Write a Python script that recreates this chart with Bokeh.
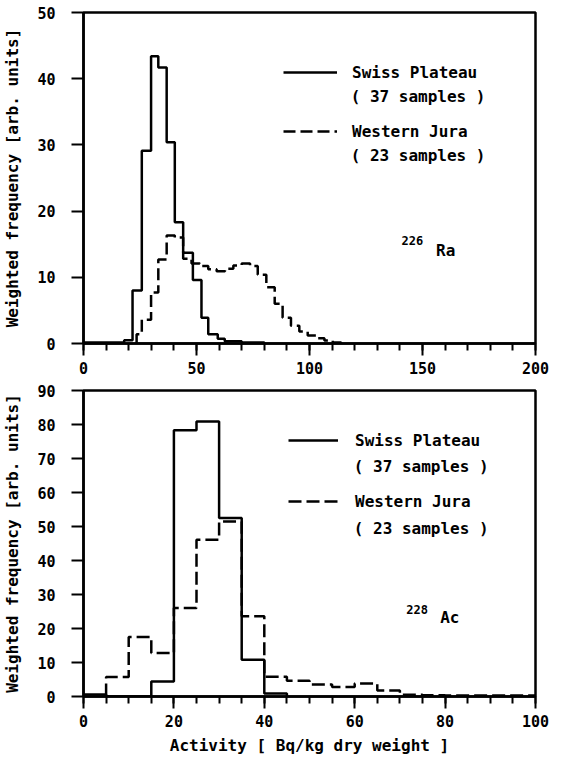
from bokeh.plotting import figure
from bokeh.layouts import column
from bokeh.models import Range1d, FixedTicker, Legend, LegendItem, Label
from bokeh.embed import file_html
from bokeh.resources import INLINE

# ---------------- data ----------------
# 226Ra panel (activity in Bq/kg, weighted frequency)
ra_sp_edges = [0, 18, 21.7, 25.8, 29.9, 33.1, 36.8, 40.4, 44.1, 48.4, 52.2, 55.2, 59.4, 62.5, 70, 80]
ra_sp_vals = [0.15, 0.5, 8.0, 29.1, 43.4, 41.7, 30.4, 18.3, 13.7, 9.6, 3.9, 1.4, 0.7, 0.35, 0.15]

ra_wj_edges = [23.5, 25.8, 29.9, 33.1, 36.8, 40.4, 44.1, 47.8, 51.5, 55.2, 58.9, 62.6, 66.3,
               70.0, 73.7, 77.1, 80.9, 84.6, 88.1, 91.8, 95.5, 99.2, 102.9, 106.6, 110.3, 114.0]
ra_wj_vals = [1.4, 3.6, 7.7, 12.7, 16.3, 16.0, 12.8, 12.1, 11.7, 11.2, 10.9, 11.3, 11.8,
              12.1, 11.7, 10.4, 8.5, 6.0, 3.9, 2.7, 1.8, 1.2, 0.8, 0.45, 0.15]

# 228Ac panel
ac_sp_edges = [0, 5, 10, 15, 20, 25, 30, 35, 40, 45]
ac_sp_vals = [0.6, 0.0, 0.0, 4.4, 78.3, 80.9, 52.5, 10.8, 0.9]

ac_wj_edges = [5, 10, 15, 20, 25, 30, 35, 40, 45, 50, 55, 60, 65, 70, 75, 80, 85, 90, 95, 100]
ac_wj_vals = [5.7, 17.5, 12.8, 26.0, 46.1, 51.5, 23.6, 5.8, 4.6, 3.5, 2.8, 3.8, 1.8,
              0.5, 0.4, 0.3, 0.3, 0.3, 0.3]

series_labels = ["Swiss Plateau", "Western Jura"]
sample_labels = ["( 37 samples )", "( 23 samples )"]

ra_xticks = [0, 50, 100, 150, 200]
ra_xminor = list(range(0, 201, 10))
ra_yticks = [0, 10, 20, 30, 40, 50]
ac_xticks = [0, 20, 40, 60, 80, 100]
ac_xminor = list(range(0, 101, 5))
ac_yticks = [0, 10, 20, 30, 40, 50, 60, 70, 80, 90]

FONT = "DejaVu Sans Mono"
LW = 2.5


def step_xy(edges, vals):
    xs = [edges[0]] + list(edges)
    ys = [0] + list(vals) + [0]
    return xs, ys


def style(p, xticks, xminor, yticks, xlabel):
    p.toolbar_location = None
    p.xgrid.visible = False
    p.ygrid.visible = False
    p.outline_line_color = "black"
    p.outline_line_width = LW
    p.outline_line_alpha = 1
    p.xaxis.ticker = FixedTicker(ticks=xticks, minor_ticks=xminor)
    p.yaxis.ticker = FixedTicker(ticks=yticks, minor_ticks=[])
    for ax in (p.xaxis[0], p.yaxis[0]):
        ax.axis_line_width = LW
        ax.major_tick_line_width = 2
        ax.minor_tick_line_width = 2
        ax.major_tick_in = 0
        ax.minor_tick_in = 0
        ax.major_tick_out = 12
        ax.major_label_text_font = FONT
        ax.major_label_text_font_style = "bold"
        ax.major_label_text_font_size = "15px"
        ax.major_label_text_color = "black"
        ax.axis_label_text_font = FONT
        ax.axis_label_text_font_style = "bold"
        ax.axis_label_text_font_size = "16px"
        ax.axis_label_text_color = "black"
    p.xaxis.minor_tick_out = 7
    p.yaxis.minor_tick_out = 0
    p.xaxis.major_label_standoff = 6
    p.yaxis.major_label_standoff = 16
    p.yaxis.axis_label = "Weighted frequency [arb. units]"
    p.yaxis.axis_label_standoff = 12
    if xlabel:
        p.xaxis.axis_label = xlabel
        p.xaxis.axis_label_standoff = 6


def add_legend(p, r1, r2, loc, gw, standoff, spacing):
    leg = Legend(items=[LegendItem(label=series_labels[0], renderers=[r1]),
                        LegendItem(label=series_labels[1], renderers=[r2])],
                 location=loc, glyph_width=gw, glyph_height=20, label_height=20,
                 label_standoff=standoff, spacing=spacing, padding=0, margin=0,
                 border_line_alpha=0, background_fill_alpha=0,
                 label_text_font=FONT, label_text_font_style="bold",
                 label_text_font_size="16px", label_text_color="black")
    p.add_layout(leg)


def add_text(p, x, y, t, size):
    p.add_layout(Label(x=x, y=y, text=t, text_font=FONT, text_font_style="bold",
                       text_font_size=size, text_baseline="middle", text_align="left",
                       text_color="black"))


# ---------------- top panel (226Ra) ----------------
p1 = figure(width=550, height=381, output_backend="svg", toolbar_location=None,
            x_range=Range1d(0, 200), y_range=Range1d(0, 50),
            min_border_left=80, min_border_right=15, min_border_top=12, min_border_bottom=38)
xs, ys = step_xy(ra_sp_edges, ra_sp_vals)
r1 = p1.step(xs, ys, mode="after", line_color="black", line_width=LW)
xs, ys = step_xy(ra_wj_edges, ra_wj_vals)
r2 = p1.step(xs, ys, mode="after", line_color="black", line_width=LW, line_dash="12 5")
style(p1, ra_xticks, ra_xminor, ra_yticks, None)
add_legend(p1, r1, r2, (200, 202), 54, 15, 39)
add_text(p1, 118.2, 37.3, sample_labels[0], "16px")
add_text(p1, 118.2, 28.4, sample_labels[1], "16px")
add_text(p1, 140.7, 15.6, "226", "12px")
add_text(p1, 156.0, 14.0, "Ra", "16px")

# ---------------- bottom panel (228Ac) ----------------
p2 = figure(width=550, height=376, output_backend="svg", toolbar_location=None,
            x_range=Range1d(0, 100), y_range=Range1d(0, 90),
            min_border_left=80, min_border_right=15, min_border_top=9, min_border_bottom=57)
xs, ys = step_xy(ac_sp_edges, ac_sp_vals)
s1 = p2.step(xs, ys, mode="after", line_color="black", line_width=LW)
xs, ys = step_xy(ac_wj_edges, ac_wj_vals)
s2 = p2.step(xs, ys, mode="after", line_color="black", line_width=LW, line_dash="13 5")
style(p2, ac_xticks, ac_xminor, ac_yticks, "Activity [ Bq/kg dry weight ]")
add_legend(p2, s1, s2, (205, 185), 50, 17, 41)
add_text(p2, 59.8, 67.7, sample_labels[0], "16px")
add_text(p2, 59.8, 49.4, sample_labels[1], "16px")
add_text(p2, 71.4, 25.6, "228", "12px")
add_text(p2, 78.9, 23.2, "Ac", "16px")

layout = column(p1, p2, spacing=0)
open("out.html", "w").write(file_html(layout, INLINE))
